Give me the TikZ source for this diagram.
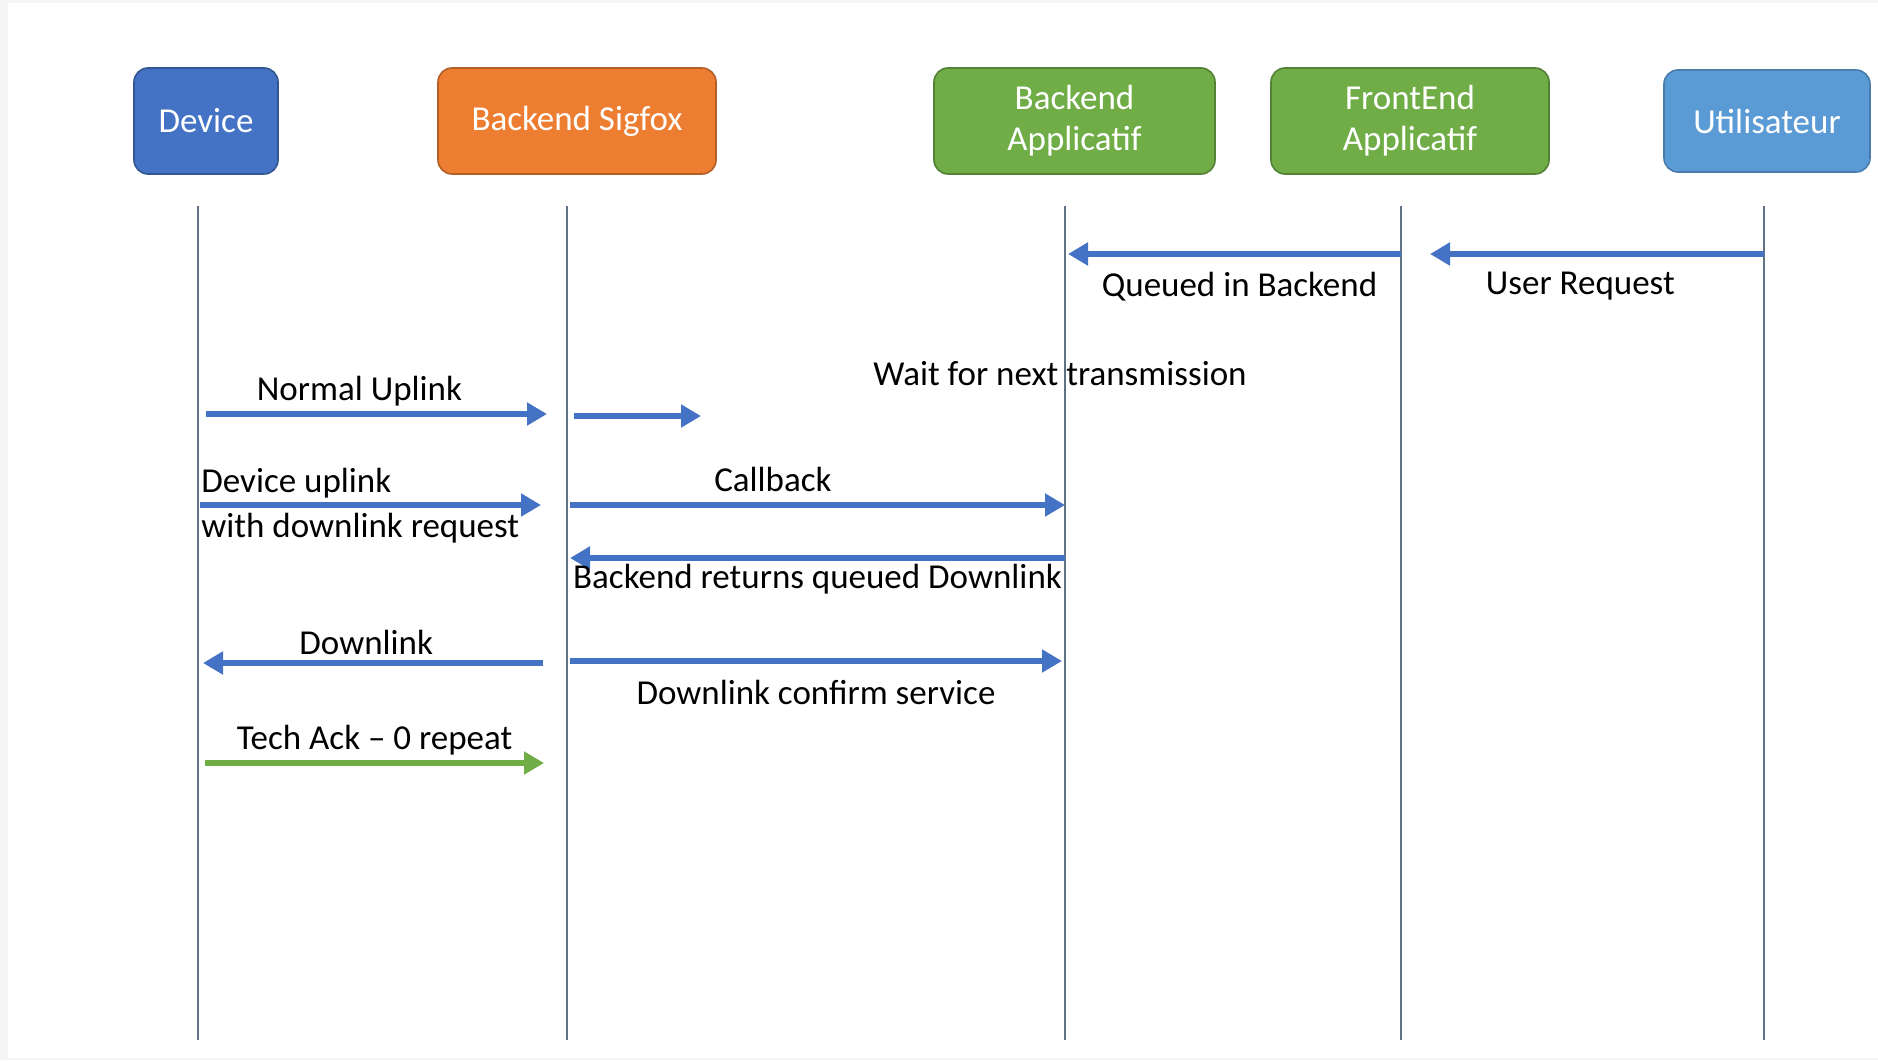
\documentclass[tikz,border=0pt]{standalone}
\usepackage{fontspec}
\setmainfont{Carlito}
\usepackage{xcolor}
\usepackage{tikz}
\usetikzlibrary{arrows.meta, positioning, calc}

\definecolor{devblue}{HTML}{4472C4}
\definecolor{sigorange}{HTML}{ED7D31}
\definecolor{appgreen}{HTML}{70AD47}
\definecolor{userblue}{HTML}{5B9BD5}
\definecolor{lifegray}{HTML}{5F7385}

\begin{document}
\begin{tikzpicture}[
    x=0.5pt, y=-0.5pt,
    every node/.style={align=center, font=\fontsize{17.5}{20.5}\selectfont},
    actor/.style={draw, rounded corners=7pt, minimum height=53pt,
                  text=white, line width=0.8pt, inner sep=2pt},
    life/.style={draw=lifegray, line width=0.8pt},
    msg/.style={-{Triangle[length=10pt, width=11pt]}, line width=2.6pt, draw=devblue},
    ack/.style={msg, draw=appgreen},
    lbl/.style={inner sep=0pt, text height=12pt, text depth=4pt}
]
\useasboundingbox (0,0) rectangle (1878,1060);
\fill[gray!8] (0,0) rectangle (1878,1060);
\fill[white] (8,3) rectangle (1878,1058);

% actors
\node[actor, fill=devblue, draw=devblue!75!black, minimum width=72pt] (dev) at (206,121) {Device};
\node[actor, fill=sigorange, draw=sigorange!75!black, minimum width=139pt] (sig) at (577,121) {Backend Sigfox};
\node[actor, fill=appgreen, draw=appgreen!75!black, minimum width=140.5pt] (app) at (1074.5,121) {Backend\\Applicatif};
\node[actor, fill=appgreen, draw=appgreen!75!black, minimum width=139pt] (front) at (1410,121) {FrontEnd\\Applicatif};
\node[actor, fill=userblue, draw=userblue!80!black, minimum width=103pt, minimum height=51pt] (user) at (1767,121) {Utilisateur};

\node[lbl] (wait) at (1060,377) {Wait for next transmission};

% lifelines
\foreach \n/\x in {dev/198, sig/567, app/1065, front/1401, user/1764} {
    \coordinate (\n T) at (\x,206);
    \coordinate (\n B) at (\x,1040);
    \draw[life] (\n T) -- (\n B);
}

% messages
\draw[msg] (frontT|-0,254) -- node[lbl,below=8pt,pos=0.485]{Queued in Backend} ($(appT|-0,254)+(3,0)$);
\draw[msg] (userT|-0,254) -- node[lbl,below=7pt,pos=0.55]{User Request} ($(frontT|-0,254)+(29,0)$);

\draw[msg] ($(devT|-0,414)+(8,0)$) -- node[lbl,above=1.5pt,pos=0.45]{Normal Uplink} ($(sigT|-0,414)+(-20,0)$);
\coordinate (next) at (701,416);
\draw[msg] ($(sigT|-0,416)+(7,0)$) -- (next);

\node[anchor=west, align=left, inner sep=0pt, font=\fontsize{17.5}{22.5}\selectfont] (req) at (201,506)
    {Device uplink\\with downlink request};
\draw[msg] ($(devT|-0,505)+(2,0)$) -- ($(sigT|-0,505)+(-26,0)$);
\draw[msg] ($(sigT|-0,505)+(3,0)$) -- node[lbl,above=1.5pt,pos=0.41]{Callback} (appT|-0,505);
\draw[msg] (appT|-0,558) -- node[lbl,below=2pt]{Backend returns queued Downlink} ($(sigT|-0,558)+(3,0)$);

\draw[msg] ($(sigT|-0,663)+(-24,0)$) -- node[lbl,above=-1pt,pos=0.52]{Downlink} ($(devT|-0,663)+(5,0)$);
\draw[msg] ($(sigT|-0,661)+(3,0)$) -- node[lbl,below=8.5pt]{Downlink confirm service} ($(appT|-0,661)+(-3,0)$);

\draw[ack] ($(devT|-0,763)+(7,0)$) -- node[lbl,above=1.5pt]{Tech Ack -- 0 repeat} ($(sigT|-0,763)+(-23,0)$);
\end{tikzpicture}
\end{document}
